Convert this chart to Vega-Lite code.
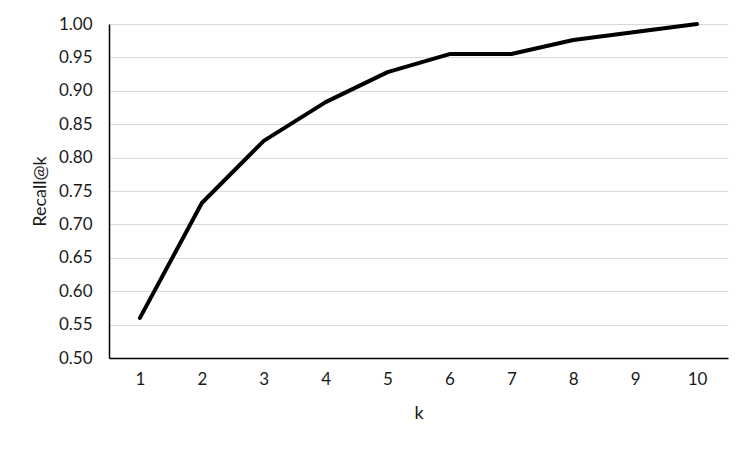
{
  "$schema": "https://vega.github.io/schema/vega-lite/v6.json",
  "width": 619,
  "height": 334,
  "autosize": {"type": "none"},
  "padding": {"left": 109, "top": 24, "right": 24, "bottom": 91},
  "background": "white",
  "config": {
    "view": {"stroke": null},
    "font": "Lato"
  },
  "data": {
    "values": [
      {"k": "1", "recall": 0.560},
      {"k": "2", "recall": 0.732},
      {"k": "3", "recall": 0.825},
      {"k": "4", "recall": 0.883},
      {"k": "5", "recall": 0.928},
      {"k": "6", "recall": 0.955},
      {"k": "7", "recall": 0.955},
      {"k": "8", "recall": 0.976},
      {"k": "9", "recall": 0.988},
      {"k": "10", "recall": 1.0}
    ]
  },
  "mark": {"type": "line", "color": "black", "strokeWidth": 4, "strokeCap": "round", "strokeJoin": "round"},
  "encoding": {
    "x": {
      "field": "k", "type": "ordinal", "sort": null,
      "scale": {"type": "point", "padding": 0.5},
      "axis": {
        "title": "k", "labelAngle": 0, "ticks": false, "grid": false,
        "domainColor": "black", "domainWidth": 1.5,
        "labelFontSize": 17, "labelColor": "#1a1a1a", "labelPadding": 13,
        "titleFontSize": 18, "titleFontWeight": "normal", "titleColor": "#1a1a1a", "titlePadding": 17
      }
    },
    "y": {
      "field": "recall", "type": "quantitative",
      "scale": {"domain": [0.5, 1.0], "nice": false, "zero": false},
      "axis": {
        "title": "Recall@k", "values": [0.5, 0.55, 0.6, 0.65, 0.7, 0.75, 0.8, 0.85, 0.9, 0.95, 1.0],
        "format": ".2f", "ticks": false, "grid": true, "gridColor": "#d9d9d9", "gridWidth": 1,
        "domainColor": "black", "domainWidth": 1.5,
        "labelFontSize": 17, "labelColor": "#1a1a1a", "labelPadding": 17,
        "titleFontSize": 18, "titleFontWeight": "normal", "titleColor": "#1a1a1a", "titlePadding": 9
      }
    }
  }
}
